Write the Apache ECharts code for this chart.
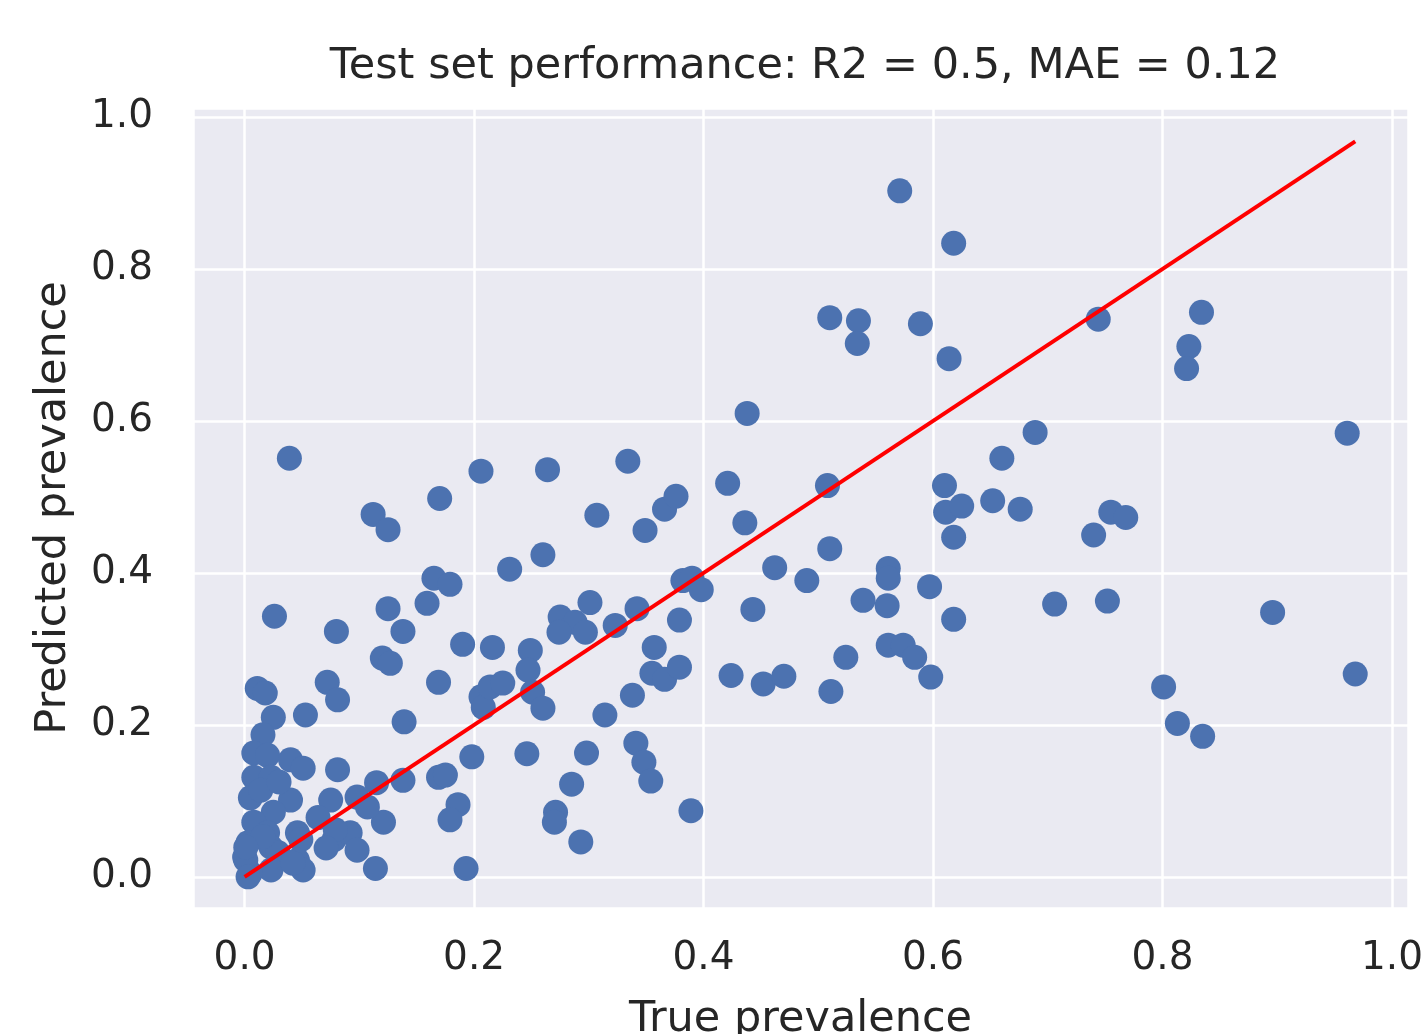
<!DOCTYPE html>
<html>
<head>
<meta charset="utf-8">
<title>Test set performance</title>
<script src="https://cdn.jsdelivr.net/npm/echarts@6/dist/echarts.min.js"></script>
<style>
  html, body { margin: 0; padding: 0; background: #fff; }
  #chart { width: 1424px; height: 1034px; }
</style>
</head>
<body>
<div id="chart"></div>
<script>
// true prevalence (x) and predicted prevalence (y)
const trueVals = [
  0.571, 0.618, 0.510, 0.535, 0.534, 0.589, 0.614, 0.744, 0.834, 0.823,
  0.821, 0.438, 0.961, 0.689, 0.039, 0.206, 0.264, 0.334, 0.660, 0.170,
  0.112, 0.125, 0.307, 0.349, 0.366, 0.376, 0.421, 0.436, 0.508, 0.610,
  0.611, 0.625, 0.618, 0.652, 0.676, 0.755, 0.768, 0.740, 0.510, 0.260,
  0.231, 0.462, 0.490, 0.561, 0.561, 0.539, 0.560, 0.597, 0.618, 0.706,
  0.752, 0.896, 0.165, 0.179, 0.159, 0.125, 0.138, 0.026, 0.080, 0.190,
  0.216, 0.275, 0.288, 0.274, 0.297, 0.301, 0.323, 0.342, 0.379, 0.382,
  0.390, 0.398, 0.357, 0.355, 0.366, 0.379, 0.424, 0.443, 0.452, 0.470,
  0.524, 0.511, 0.561, 0.574, 0.584, 0.598, 0.801, 0.813, 0.835, 0.968,
  0.249, 0.247, 0.251, 0.260, 0.206, 0.208, 0.214, 0.225, 0.120, 0.127,
  0.169, 0.139, 0.338, 0.314, 0.341, 0.348, 0.354, 0.389, 0.298, 0.246,
  0.198, 0.285, 0.271, 0.270, 0.293, 0.193, 0.114, 0.186, 0.179, 0.169,
  0.175, 0.115, 0.121, 0.098, 0.107, 0.081, 0.075, 0.078, 0.092, 0.098,
  0.011, 0.018, 0.072, 0.081, 0.025, 0.053, 0.016, 0.008, 0.020, 0.040,
  0.051, 0.008, 0.023, 0.005, 0.040, 0.025, 0.008, 0.064, 0.003, 0.000,
  0.020, 0.023, 0.029, 0.046, 0.049, 0.046, 0.051, 0.023, 0.005, 0.001,
  0.079, 0.071, 0.042, 0.016, 0.001, 0.003, 0.138, 0.014, 0.030
];
const predVals = [
  0.903, 0.834, 0.736, 0.732, 0.702, 0.728, 0.682, 0.734, 0.743, 0.698,
  0.669, 0.610, 0.584, 0.585, 0.551, 0.534, 0.536, 0.547, 0.551, 0.498,
  0.477, 0.457, 0.476, 0.456, 0.484, 0.501, 0.518, 0.466, 0.515, 0.515,
  0.480, 0.488, 0.447, 0.495, 0.484, 0.480, 0.473, 0.450, 0.432, 0.424,
  0.405, 0.407, 0.390, 0.406, 0.393, 0.364, 0.357, 0.382, 0.339, 0.359,
  0.363, 0.348, 0.393, 0.385, 0.360, 0.353, 0.323, 0.343, 0.323, 0.306,
  0.302, 0.342, 0.335, 0.322, 0.322, 0.361, 0.331, 0.353, 0.338, 0.390,
  0.393, 0.378, 0.302, 0.268, 0.260, 0.276, 0.265, 0.352, 0.254, 0.264,
  0.289, 0.244, 0.305, 0.305, 0.289, 0.263, 0.250, 0.202, 0.185, 0.267,
  0.298, 0.272, 0.243, 0.222, 0.237, 0.223, 0.250, 0.255, 0.288, 0.281,
  0.256, 0.204, 0.239, 0.213, 0.176, 0.151, 0.126, 0.087, 0.163, 0.162,
  0.158, 0.122, 0.085, 0.072, 0.046, 0.011, 0.011, 0.095, 0.075, 0.131,
  0.134, 0.124, 0.072, 0.105, 0.092, 0.141, 0.101, 0.049, 0.058, 0.035,
  0.248, 0.242, 0.256, 0.233, 0.210, 0.213, 0.187, 0.163, 0.160, 0.154,
  0.143, 0.131, 0.131, 0.104, 0.101, 0.085, 0.072, 0.078, 0.045, 0.026,
  0.058, 0.039, 0.032, 0.058, 0.049, 0.022, 0.009, 0.009, 0.005, 0.022,
  0.062, 0.038, 0.018, 0.053, 0.039, 0.000, 0.127, 0.114, 0.125
];
// ideal y = x reference line, from 0 to the largest true value
const lineX = [0, 0.968];
const lineY = [0, 0.968];

const textColor = '#262626';
const fontFamily = 'DejaVu Sans';

const chart = echarts.init(document.getElementById('chart'));

const points = trueVals.map((x, i) => [x, predVals[i]]);
const linePoints = lineX.map((x, i) => [x, lineY[i]]);

// only label the 0.2 steps, not the padded min / max
function tickLabel(v) {
  const k = v / 0.2;
  return Math.abs(k - Math.round(k)) < 1e-6 ? v.toFixed(1) : '';
}

chart.setOption({
  animation: false,
  backgroundColor: '#ffffff',
  title: {
    text: 'Test set performance: R2 = 0.5, MAE = 0.12',
    left: 800,
    top: 40,
    textAlign: 'center',
    textStyle: {
      fontFamily,
      fontSize: 43,
      fontWeight: 'normal',
      color: textColor,
    },
  },
  grid: {
    left: 193,
    top: 108,
    width: 1215,
    height: 800,
    outerBoundsMode: 'none',
    containLabel: false,
    show: true,
    backgroundColor: '#EAEAF2',
    borderWidth: 0,
  },
  xAxis: {
    type: 'value',
    min: -0.045,
    max: 1.014,
    splitNumber: 5,
    name: 'True prevalence',
    nameLocation: 'middle',
    nameGap: 90,
    nameTextStyle: { fontFamily, fontSize: 43, color: textColor },
    axisLine: { show: false },
    axisTick: { show: false },
    axisLabel: {
      margin: 31,
      fontFamily,
      fontSize: 39,
      color: textColor,
      formatter: tickLabel,
    },
    splitLine: { show: true, lineStyle: { color: '#ffffff', width: 2.5 } },
  },
  yAxis: {
    type: 'value',
    min: -0.041,
    max: 1.012,
    splitNumber: 5,
    name: 'Predicted prevalence',
    nameLocation: 'middle',
    nameGap: 118,
    nameRotate: 90,
    nameTextStyle: { fontFamily, fontSize: 43, color: textColor },
    axisLine: { show: false },
    axisTick: { show: false },
    axisLabel: {
      margin: 40,
      fontFamily,
      fontSize: 39,
      color: textColor,
      formatter: tickLabel,
    },
    splitLine: { show: true, lineStyle: { color: '#ffffff', width: 2.5 } },
  },
  series: [
    {
      type: 'scatter',
      data: points,
      symbol: 'circle',
      symbolSize: 25,
      itemStyle: { color: '#4C72B0', opacity: 1 },
      z: 2,
    },
    {
      type: 'line',
      data: linePoints,
      showSymbol: false,
      symbol: 'none',
      lineStyle: { color: '#ff0000', width: 4 },
      z: 3,
    },
  ],
});
</script>
</body>
</html>
